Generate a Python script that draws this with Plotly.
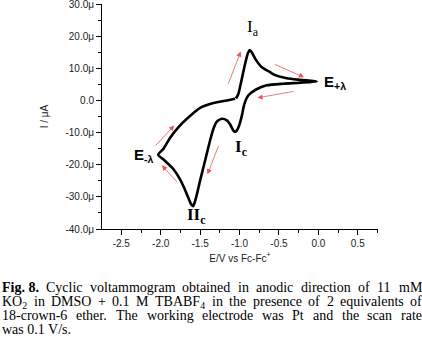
import re
import plotly.graph_objects as go

# ---------------- data (E in V vs Fc/Fc+, I in microampere) ----------------
potential_E = [
    -1.045, -1.014, -0.971, -0.929, -0.895, -0.870, -0.845, -0.802, -0.717, -0.612, -0.570,
    -0.401, -0.232, -0.020,
    -0.232, -0.444, -0.654, -0.790, -0.887, -0.940, -0.971, -1.005, -1.035, -1.056, -1.080,
    -1.120, -1.161, -1.224, -1.288, -1.331, -1.373, -1.436, -1.499, -1.545, -1.570, -1.590,
    -1.612, -1.650, -1.700, -1.760, -1.838, -1.964, -2.032,
    -1.964, -1.880, -1.774, -1.668, -1.499, -1.331, -1.161, -1.056,
]
current_I = [
    0.6, 2.1, 6.7, 11.4, 14.6, 15.7, 15.0, 13.0, 10.3, 8.8, 8.1,
    6.9, 6.4, 5.9,
    5.5, 5.2, 4.7, 3.4, 1.6, -1.2, -4.8, -7.8, -9.4, -9.8, -9.3,
    -7.4, -6.2, -5.7, -6.6, -8.8, -12.4, -18.6, -24.8, -29.6, -31.8, -32.9,
    -32.4, -30.3, -27.3, -24.3, -21.4, -18.4, -16.9,
    -15.0, -11.6, -8.3, -5.7, -2.3, -0.8, 0.0, 0.5,
]

x_tick_vals = [-2.5, -2.0, -1.5, -1.0, -0.5, 0.0, 0.5]
x_tick_text = ["-2.5", "-2.0", "-1.5", "-1.0", "-0.5", "0.0", "0.5"]
y_tick_vals = [30, 20, 10, 0, -10, -20, -30, -40]
y_tick_text = ["30.0μ", "20.0μ", "10.0μ", "0.0", "-10.0μ", "-20.0μ", "-30.0μ", "-40.0μ"]

# scan-direction arrows: (tail E, tail I, head E, head I)
arrow_tail_E = [-1.150, -0.570, -0.295, -1.259, -1.774, -2.082]
arrow_tail_I = [4.7, 11.4, 2.9, -13.7, -25.9, -14.5]
arrow_head_E = [-0.985, -0.181, -0.773, -1.407, -1.985, -1.828]
arrow_head_I = [15.2, 7.2, 0.8, -23.0, -20.2, -7.8]

# peak / switching-potential labels
label_text = ["I<sub>a</sub>", "<b>E<sub>+λ</sub></b>", "<b>E<sub>-λ</sub></b>",
              "<b>II<sub>c</sub></b>", "<b>I<sub>c</sub></b>"]
label_E = [-0.835, 0.215, -2.215, -1.545, -0.985]
label_I = [22.6, 5.6, -17.1, -36.0, -14.9]
label_family = ["Liberation Serif", "Liberation Sans", "Liberation Sans",
                "Liberation Serif", "Liberation Serif"]
label_size = [17, 15, 15, 17, 17]

caption_lines = [
    "<b>Fig. 8.</b> Cyclic voltammogram obtained in anodic direction of 11 mM",
    "KO<sub>2</sub> in DMSO + 0.1 M TBABF<sub>4</sub> in the presence of 2 equivalents of",
    "18-crown-6 ether. The working electrode was Pt and the scan rate",
    "was 0.1 V/s.",
]
caption_justified = [True, True, True, False]

# ---------------- figure ----------------
W, H = 422, 346
ML, MR, MT, MB = 102, 44, 4, 117
plot_w = W - ML - MR
plot_h = H - MT - MB


def px_to_paper_x(px):
    return (px - ML) / plot_w


def py_to_paper_y(py):
    return (H - MB - py) / plot_h


# Times / Liberation Serif advance widths (per 1000 em) for caption justification
_TW = {' ': 250, '.': 250, ',': 250, '-': 333, '+': 564, '/': 278,
       'A': 722, 'B': 667, 'C': 667, 'D': 722, 'E': 611, 'F': 556, 'G': 722, 'H': 722,
       'I': 333, 'K': 722, 'M': 889, 'O': 722, 'P': 556, 'S': 556, 'T': 611, 'V': 722,
       'W': 944, 'a': 444, 'b': 500, 'c': 444, 'd': 500, 'e': 444, 'f': 333, 'g': 500,
       'h': 500, 'i': 278, 'j': 278, 'k': 500, 'l': 278, 'm': 778, 'n': 500, 'o': 500,
       'p': 500, 'q': 500, 'r': 333, 's': 389, 't': 278, 'u': 500, 'v': 500, 'w': 722,
       'x': 500, 'y': 500, 'z': 444}
CAP_SIZE = 14


def text_width(word, size):
    w = 0.0
    for part in re.split(r"(<sub>.*?</sub>)", word):
        if part.startswith("<sub>"):
            inner = part[5:-6]
            w += sum(_TW.get(ch, 500) for ch in inner) * 0.7
        else:
            plain = re.sub(r"<.*?>", "", part)
            w += sum(_TW.get(ch, 500) for ch in plain)
    return w * size / 1000.0


fig = go.Figure()
fig.add_trace(go.Scatter(
    x=potential_E, y=current_I, mode="lines",
    line=dict(color="black", width=2.6, shape="spline", smoothing=0.6),
    showlegend=False, hoverinfo="skip",
))

annotations = []
for te, ti, he, hi in zip(arrow_tail_E, arrow_tail_I, arrow_head_E, arrow_head_I):
    annotations.append(dict(
        x=he, y=hi, ax=te, ay=ti, xref="x", yref="y", axref="x", ayref="y",
        text="", showarrow=True, arrowhead=2, arrowsize=1.3, arrowwidth=0.8,
        arrowcolor="#e4585c",
    ))

for t, e, i, fam, sz in zip(label_text, label_E, label_I, label_family, label_size):
    annotations.append(dict(
        x=e, y=i, xref="x", yref="y", showarrow=False, text=t,
        font=dict(family=fam, size=sz, color="black"),
    ))

# caption: each line justified between x=1 and x=421 px
caption_top = [279, 293, 307, 321]
LEFT, RIGHT = 1, 421
for line, top, just in zip(caption_lines, caption_top, caption_justified):
    if not just:
        annotations.append(dict(
            x=px_to_paper_x(LEFT), y=py_to_paper_y(top), xref="paper", yref="paper",
            showarrow=False, xanchor="left", yanchor="top", text=line, borderpad=0,
            font=dict(family="Liberation Serif", size=CAP_SIZE, color="black"),
        ))
        continue
    tokens = re.findall(r"<b>.*?</b>|\S+", line)
    widths = [text_width(tok, CAP_SIZE) for tok in tokens]
    gap = (RIGHT - LEFT - sum(widths)) / (len(tokens) - 1)
    xpos = LEFT
    for tok, wd in zip(tokens, widths):
        annotations.append(dict(
            x=px_to_paper_x(xpos), y=py_to_paper_y(top), xref="paper", yref="paper",
            showarrow=False, xanchor="left", yanchor="top", text=tok, borderpad=0,
            font=dict(family="Liberation Serif", size=CAP_SIZE, color="black"),
        ))
        xpos += wd + gap

fig.update_layout(
    width=W, height=H,
    margin=dict(l=ML, r=MR, t=MT, b=MB, autoexpand=False),
    plot_bgcolor="white", paper_bgcolor="white",
    font=dict(family="Liberation Sans", size=10, color="#222"),
    annotations=annotations,
    xaxis=dict(
        range=[-2.745, 0.757], showline=True, linecolor="black", linewidth=1,
        ticks="outside", ticklen=5, tickwidth=1, tickcolor="black",
        tickvals=x_tick_vals, ticktext=x_tick_text, automargin=False,
        ticklabeloverflow="allow",
        minor=dict(dtick=0.25, tick0=0, ticks="outside", ticklen=3, tickcolor="black"),
        showgrid=False, zeroline=False,
        title=dict(text="E/V vs Fc-Fc<sup>+</sup>", standoff=6, font=dict(size=10)),
        tickfont=dict(size=10),
    ),
    yaxis=dict(
        range=[-40, 30], showline=True, linecolor="black", linewidth=1,
        ticks="outside", ticklen=5, tickwidth=1, tickcolor="black",
        tickvals=y_tick_vals, ticktext=y_tick_text, automargin=False,
        ticklabeloverflow="allow",
        minor=dict(dtick=5, tick0=0, ticks="outside", ticklen=3, tickcolor="black"),
        showgrid=False, zeroline=False,
        title=dict(text="I / μA", standoff=14, font=dict(size=10)),
        tickfont=dict(size=10),
    ),
)

fig.write_html(
    "out.html",
    config={"displayModeBar": False},
    post_script="document.body.style.margin='0px';document.body.style.overflow='hidden';",
)
